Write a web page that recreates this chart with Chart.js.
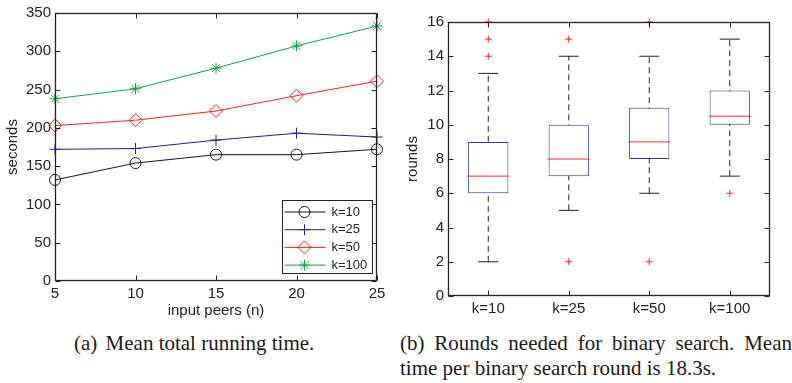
<!DOCTYPE html>
<html lang="en">
<head>
<meta charset="UTF-8">
<title>Running time and binary search rounds</title>
<script src="https://cdn.jsdelivr.net/npm/chart.js@4"></script>
<style>
    body {
        margin: 0;
        background: #fff;
        width: 792px;
        height: 383px;
        position: relative;
        overflow: hidden;
    }
    canvas { position: absolute; top: 0; }
    #timeChart { left: 0; }
    #roundsChart { left: 395px; }
    .caption {
        position: absolute;
        font-family: "Liberation Serif", "Times New Roman", serif;
        font-size: 21px;
        line-height: 25px;
        color: #1a1a1a;
    }
    #capA { left: 74px; top: 331px; white-space: nowrap; }
    #capA .lab { margin-right: 3px; }
    #capB { left: 400px; top: 331px; width: 392px; }
    .just { text-align: justify; text-align-last: justify; }
</style>
</head>
<body>
<canvas id="timeChart" width="395" height="325"></canvas>
<canvas id="roundsChart" width="397" height="325"></canvas>
<div class="caption" id="capA"><span class="lab">(a)</span> Mean total running time.</div>
<div class="caption" id="capB">
    <div class="just">(b) Rounds needed for binary search. Mean</div>
    <div>time per binary search round is 18.3s.</div>
</div>

<script>
// (a) mean total running time
const peers = [5, 10, 15, 20, 25];
const k10 = [132, 154, 165, 165, 172];
const k25 = [172, 173, 184, 193, 188];
const k50 = [203, 210, 222, 242, 261];
const k100 = [238, 251, 278, 307, 333];
const secondsTicks = { min: 0, max: 350, step: 50 };

// (b) rounds needed for binary search
const groups = ['k=10', 'k=25', 'k=50', 'k=100'];
const lowWhisker = [2, 5, 6, 7];
const q1 = [6, 7, 8, 10];
const median = [7, 8, 9, 10.5];
const q3 = [9, 10, 11, 12];
const highWhisker = [13, 14, 14, 15];
const outliers = [[14, 15, 16], [2, 15], [2, 16], [6]];
const roundsTicks = { min: 0, max: 16, step: 2 };

const FONT = '"Liberation Sans", Arial, Helvetica, sans-serif';
const INK = '#222';
const tickFont = { family: FONT, size: 15 };
const noGrid = { display: false, drawTicks: false };

// matlab style box: frame on all sides, ticks pointing inwards
const frame = {
    id: 'frame',
    afterDatasetsDraw(chart) {
        const { ctx, chartArea: a, scales } = chart;
        const L = Math.round(a.left) + 0.5, R = Math.round(a.right) - 0.5;
        const T = Math.round(a.top) + 0.5, B = Math.round(a.bottom) - 0.5;
        ctx.save();
        ctx.strokeStyle = INK;
        ctx.lineWidth = 1;
        ctx.beginPath();
        scales.x.ticks.forEach((t, i) => {
            const px = Math.round(scales.x.getPixelForTick(i)) + 0.5;
            ctx.moveTo(px, B); ctx.lineTo(px, B - 5);
            ctx.moveTo(px, T); ctx.lineTo(px, T + 5);
        });
        scales.y.ticks.forEach((t, i) => {
            const py = Math.round(scales.y.getPixelForTick(i)) + 0.5;
            ctx.moveTo(L, py); ctx.lineTo(L + 5, py);
            ctx.moveTo(R, py); ctx.lineTo(R - 5, py);
        });
        ctx.stroke();
        ctx.lineWidth = 1.3;
        ctx.strokeRect(L, T, R - L, B - T);
        ctx.restore();
    }
};

// legend box in the lower right corner of plot (a)
const insideLegend = {
    id: 'insideLegend',
    afterDraw(chart) {
        const { ctx, chartArea: a } = chart;
        const w = 90, h = 73, rowH = 17.7;
        const x0 = Math.round(a.right - 5 - w) + 0.5;
        const y0 = Math.round(a.bottom - 8 - h) + 0.5;
        ctx.save();
        ctx.fillStyle = '#fff';
        ctx.fillRect(x0, y0, w, h);
        ctx.strokeStyle = INK;
        ctx.lineWidth = 1;
        ctx.strokeRect(x0, y0, w, h);
        ctx.font = '13px ' + FONT;
        ctx.textBaseline = 'middle';
        chart.data.datasets.forEach((ds, i) => {
            const y = y0 + 11.5 + i * rowH;
            ctx.strokeStyle = ds.borderColor;
            ctx.lineWidth = 1;
            ctx.beginPath();
            ctx.moveTo(x0 + 2, y);
            ctx.lineTo(x0 + 43, y);
            ctx.stroke();
            ctx.fillStyle = 'rgba(0,0,0,0)';
            Chart.helpers.drawPoint(ctx, {
                pointStyle: ds.pointStyle, radius: ds.pointRadius, rotation: 0, borderWidth: 1
            }, x0 + 22, y);
            ctx.fillStyle = INK;
            ctx.fillText(ds.label, x0 + 49, y);
        });
        ctx.restore();
    }
};

function series(label, values, color, style, radius) {
    return {
        label: label,
        data: peers.map((p, i) => ({ x: p, y: values[i] })),
        borderColor: color,
        borderWidth: 1,
        pointStyle: style,
        pointRadius: radius,
        pointBorderColor: color,
        pointBackgroundColor: 'rgba(0,0,0,0)',
        pointBorderWidth: 1,
        clip: false
    };
}

new Chart(document.getElementById('timeChart'), {
    type: 'line',
    data: {
        datasets: [
            series('k=10', k10, '#151515', 'circle', 5.5),
            series('k=25', k25, '#1e1e8a', 'cross', 5.5),
            series('k=50', k50, '#ff1f1f', 'rectRot', 6.5),
            series('k=100', k100, '#14a04c', 'star', 5.5)
        ]
    },
    options: {
        responsive: false,
        animation: false,
        events: [],
        layout: { padding: { top: 12, right: 18, left: 0, bottom: 0 } },
        plugins: { legend: { display: false }, tooltip: { enabled: false } },
        scales: {
            x: {
                type: 'linear',
                min: peers[0],
                max: peers[peers.length - 1],
                ticks: { stepSize: 5, font: tickFont, color: INK, padding: 4 },
                grid: noGrid,
                border: { display: false },
                title: { display: true, text: 'input peers (n)', font: tickFont, color: INK, padding: { top: 0, bottom: 5 } },
                afterFit: s => { s.height = 44; }
            },
            y: {
                min: secondsTicks.min,
                max: secondsTicks.max,
                ticks: { stepSize: secondsTicks.step, font: tickFont, color: INK, padding: 4 },
                grid: noGrid,
                border: { display: false },
                title: { display: true, text: 'seconds', font: tickFont, color: INK, padding: { top: 4, bottom: 0 } },
                afterFit: s => { s.width = 55; }
            }
        }
    },
    plugins: [frame, insideLegend]
});

// boxplot pieces
const whiskers = groups.map((g, i) => ({
    type: 'line',
    data: [{ x: g, y: lowWhisker[i] }, { x: g, y: highWhisker[i] }],
    borderColor: INK,
    borderWidth: 1,
    borderDash: [6, 4],
    pointRadius: 0,
    clip: false,
    order: 4
}));
const caps = groups.flatMap((g, i) => [{ x: g, y: lowWhisker[i] }, { x: g, y: highWhisker[i] }]);
const medians = groups.map((g, i) => ({ x: g, y: median[i] }));
const flyers = groups.flatMap((g, i) => outliers[i].map(v => ({ x: g, y: v })));

new Chart(document.getElementById('roundsChart'), {
    type: 'bar',
    data: {
        labels: groups,
        datasets: [
            ...whiskers,
            {
                type: 'bar',
                data: groups.map((g, i) => [q1[i], q3[i]]),
                backgroundColor: '#fff',
                borderColor: '#33339c',
                borderWidth: 1,
                borderSkipped: false,
                barPercentage: 0.5,
                categoryPercentage: 1,
                order: 3
            },
            {
                type: 'line', showLine: false, data: caps,
                pointStyle: 'line', pointRadius: 10, pointBorderColor: INK, pointBorderWidth: 1,
                clip: false, order: 2
            },
            {
                type: 'line', showLine: false, data: medians,
                pointStyle: 'line', pointRadius: 21, pointBorderColor: '#ff2a2a', pointBorderWidth: 1,
                clip: false, order: 1
            },
            {
                type: 'line', showLine: false, data: flyers,
                pointStyle: 'cross', pointRadius: 3.5, pointBorderColor: '#ff1f1f', pointBorderWidth: 1,
                clip: false, order: 0
            }
        ]
    },
    options: {
        responsive: false,
        animation: false,
        events: [],
        layout: { padding: { top: 11, right: 5, left: 0, bottom: 0 } },
        plugins: { legend: { display: false }, tooltip: { enabled: false } },
        scales: {
            x: {
                ticks: { font: tickFont, color: INK, padding: 4 },
                grid: noGrid,
                border: { display: false },
                afterFit: s => { s.height = 29; }
            },
            y: {
                min: roundsTicks.min,
                max: roundsTicks.max,
                ticks: { stepSize: roundsTicks.step, font: tickFont, color: INK, padding: 4 },
                grid: noGrid,
                border: { display: false },
                title: { display: true, text: 'rounds', font: tickFont, color: INK, padding: { top: 9, bottom: 0 } },
                afterFit: s => { s.width = 53; }
            }
        }
    },
    plugins: [frame]
});
</script>
</body>
</html>
